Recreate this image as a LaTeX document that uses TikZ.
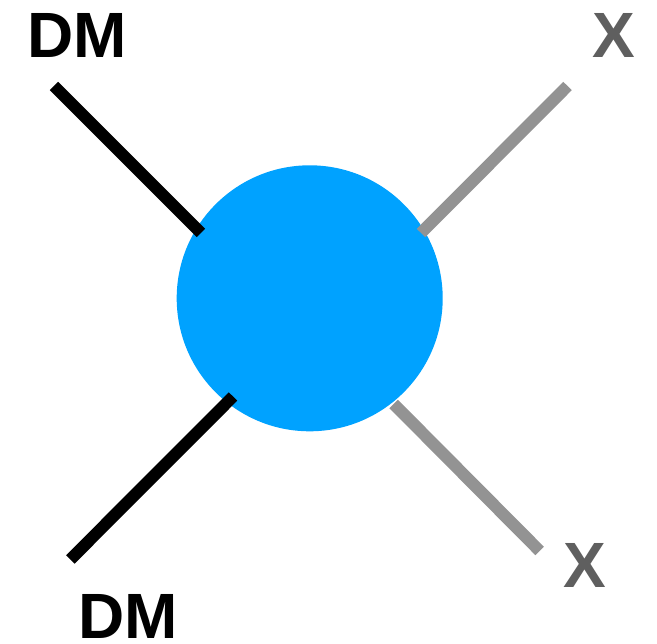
\documentclass[tikz,border=0pt]{standalone}
\usepackage{fontspec}
\setmainfont{Liberation Sans}
\definecolor{blob}{HTML}{00A2FF}
\definecolor{legx}{HTML}{939393}
\definecolor{labx}{HTML}{5F5F5F}
\begin{document}
\begin{tikzpicture}[x=1pt,y=-1pt,
  leg/.style={line width=12pt,line cap=butt},
  lab/.style={inner sep=0pt,anchor=center,font=\fontsize{64}{64}\selectfont\bfseries}]
\useasboundingbox (0,0) rectangle (657,644);
\coordinate (br1) at (393.7,404);
\coordinate (br2) at (539.7,551);
\draw[leg,legx] (br1) -- (br2);
\node[circle,fill=blob,minimum size=266pt,inner sep=0pt] (c) at (309.7,298.3) {};
\coordinate (tl1) at (54,86);
\coordinate (tl2) at (201,233);
\coordinate (bl1) at (70.3,559.5);
\coordinate (bl2) at (233,396.5);
\coordinate (tr1) at (567.5,86);
\coordinate (tr2) at (421,233);
\draw[leg,black] (tl1) -- (tl2);
\draw[leg,black] (bl1) -- (bl2);
\draw[leg,legx] (tr1) -- (tr2);
\node[lab,black] (dm1) at (77,35.5) {DM};
\node[lab,black] (dm2) at (128,616.5) {DM};
\node[lab,labx] (x1) at (613.5,35.5) {X};
\node[lab,labx] (x2) at (584.7,565.5) {X};
\end{tikzpicture}
\end{document}
